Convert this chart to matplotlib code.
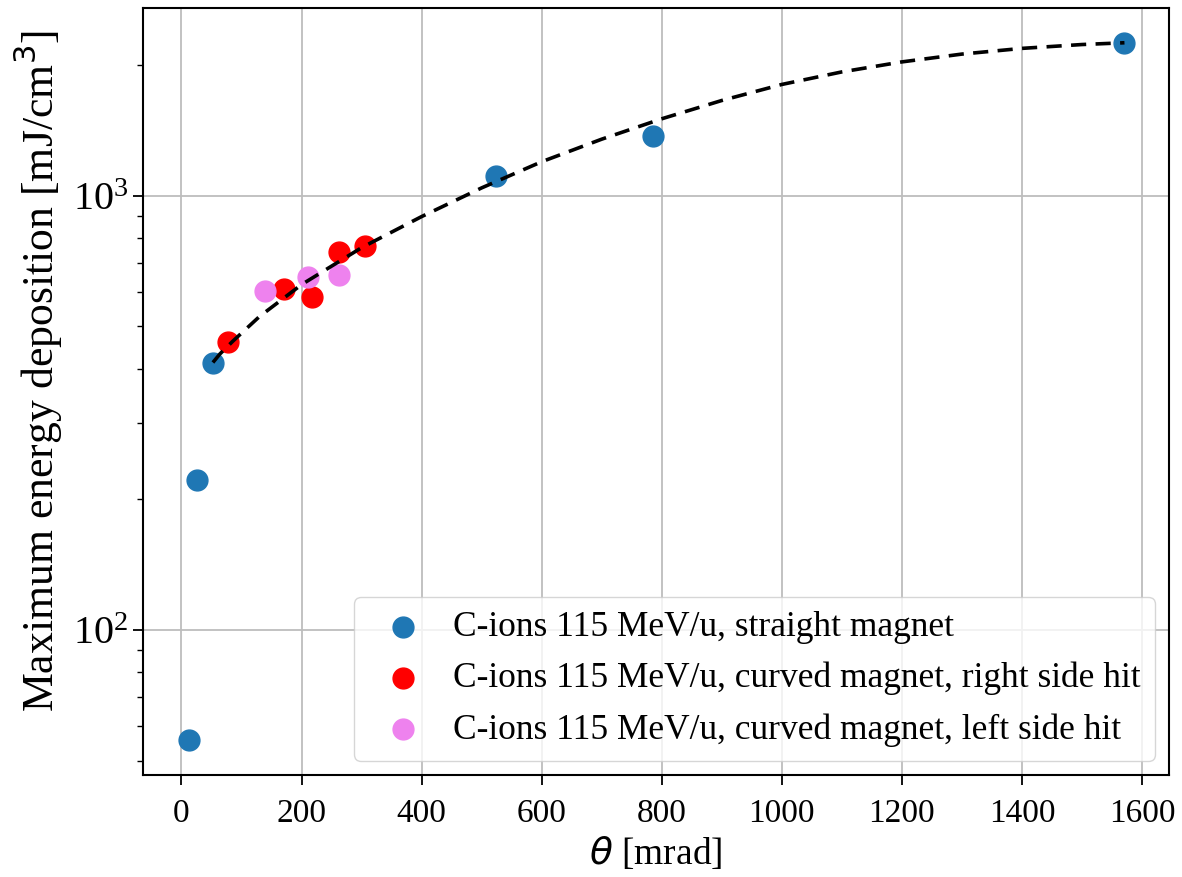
import numpy as np
import matplotlib
matplotlib.use("Agg")
import matplotlib.pyplot as plt

# ---------------- datos ----------------
# iones C 115 MeV/u, iman recto
theta_recto = [13.1, 26.2, 52.4, 523.6, 785.4, 1570.8]
edep_recto = [55.8, 222, 413, 1108, 1370, 2249]

# iman curvo, impacto lado derecho
theta_der = [78, 170, 218, 262, 305]
edep_der = [461, 610, 585, 743, 764]

# iman curvo, impacto lado izquierdo
theta_izq = [140, 210, 262]
edep_izq = [603, 650, 656]

# curva de ajuste (discontinua)
theta_ajuste = [52.4, 64, 86, 130, 200, 300, 400, 500, 600, 700, 800, 900,
                1000, 1100, 1200, 1300, 1400, 1500, 1570.8]
edep_ajuste = [413, 432, 463, 527, 624, 759, 895, 1042, 1197, 1349, 1503, 1656,
               1803, 1927, 2032, 2118, 2183, 2228, 2249]

etiquetas = [
    "C-ions 115 MeV/u, straight magnet",
    "C-ions 115 MeV/u, curved magnet, right side hit",
    "C-ions 115 MeV/u, curved magnet, left side hit",
]

plt.rcParams["font.family"] = ["Liberation Serif", "DejaVu Serif"]

fig = plt.figure(figsize=(11.82, 8.77), dpi=100)
ax = fig.add_axes([0.121, 0.1163, 0.868, 0.8747])

ax.plot(theta_ajuste, edep_ajuste, color="black", lw=2.6, ls=(0, (4.2, 2.6)), zorder=3)
ax.scatter(theta_recto, edep_recto, s=225, color="#1f77b4", label=etiquetas[0], zorder=2)
ax.scatter(theta_der, edep_der, s=225, color="red", label=etiquetas[1], zorder=2)
ax.scatter(theta_izq, edep_izq, s=225, color="violet", label=etiquetas[2], zorder=2)

ax.set_yscale("log")
ax.set_xlim(-64, 1645)
ax.set_xticks(range(0, 1601, 200))
ax.grid(True, color="#bdbdbd", lw=1.3)
ax.set_axisbelow(True)

ax.tick_params(axis="x", which="major", labelsize=24, length=7, width=1.3, pad=10)
ax.tick_params(axis="y", which="major", labelsize=29, length=7, width=1.3)
ax.tick_params(axis="y", which="minor", length=4, width=1.0)
for s in ax.spines.values():
    s.set_linewidth(1.5)

ax.set_xlabel(r"$\theta$ [mrad]", fontsize=27)
ax.set_ylabel(r"Maximum energy deposition [mJ/cm$^3$]", fontsize=31.5)
ax.yaxis.set_label_coords(-0.076, 0.527)

ax.legend(loc="lower right", fontsize=25.5, scatterpoints=1, handletextpad=0.4,
          borderaxespad=0.4)

fig.savefig("out.png", dpi=100)
